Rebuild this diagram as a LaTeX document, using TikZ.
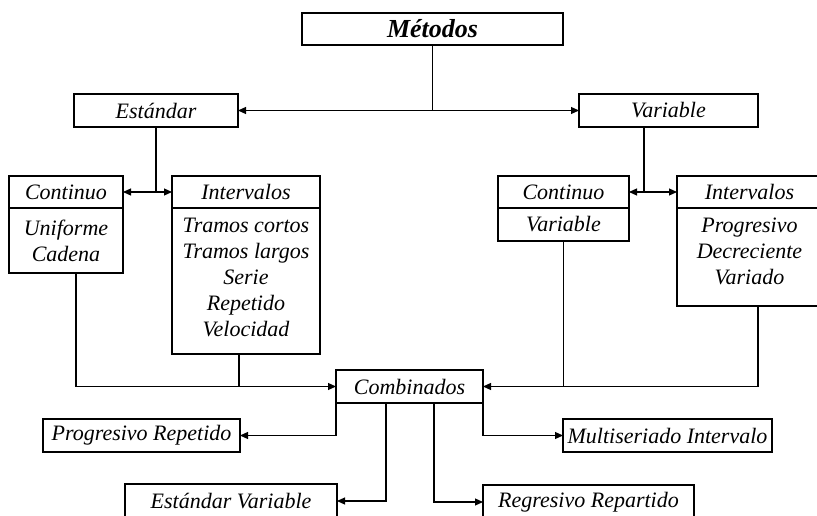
\documentclass[tikz,border=0pt]{standalone}
\usepackage{fontspec}
\setmainfont{Liberation Serif}
\usetikzlibrary{arrows.meta}
\begin{document}
\begin{tikzpicture}[x=1pt,y=-1pt,
  box/.style={draw, line width=1.1pt, rectangle, inner sep=0pt, outer sep=0pt,
    align=center, font=\fontsize{22}{26}\selectfont\itshape},
  link/.style={line width=1.1pt},
  tip/.style={-{Triangle[length=8pt,width=7pt]}},
  tips/.style={{Triangle[length=8pt,width=7pt]}-{Triangle[length=8pt,width=7pt]}}]
\useasboundingbox (0,0) rectangle (817,516);

% top level
\node[box, font=\fontsize{26}{30}\selectfont\bfseries\itshape,
  minimum width=261, minimum height=32] (metodos) at (432.5,29) {Métodos};
\node[box, minimum width=164, minimum height=33] (estandar) at (156,110.5) {Estándar};
\node[box, minimum width=179, minimum height=33] (variable) at (668.5,110.5) {Variable};

% standard methods
\node[box, minimum width=114, minimum height=32] (c1h) at (66,192) {Continuo};
\node[box, minimum width=114, minimum height=65] (c1l) at (66,240.5) {Uniforme\\Cadena};
\node[box, minimum width=148, minimum height=32] (i1h) at (246,192) {Intervalos};
\node[box, minimum width=148, minimum height=146, text depth=8pt] (i1l) at (246,281)
  {Tramos cortos\\Tramos largos\\Serie\\Repetido\\Velocidad};

% variable methods
\node[box, minimum width=131, minimum height=32] (c2h) at (563.5,192) {Continuo};
\node[box, minimum width=131, minimum height=33] (c2l) at (563.5,224.5) {Variable};
\node[box, minimum width=145, minimum height=32] (i2h) at (749.5,192) {Intervalos};
\node[box, minimum width=145, minimum height=98, text depth=11pt] (i2l) at (749.5,257)
  {Progresivo\\Decreciente\\Variado};

% combined methods
\node[box, minimum width=147, minimum height=33] (comb) at (409.5,386.5) {Combinados};
\node[box, minimum width=197, minimum height=33] (progrep) at (141.5,435.5) {Progresivo Repetido};
\node[box, minimum width=209, minimum height=33] (multi) at (667.5,435.5) {Multiseriado Intervalo};
\node[box, minimum width=212, minimum height=34] (estvar) at (231,501) {Estándar Variable};
\node[box, minimum width=211, minimum height=34] (regrep) at (588.5,502) {Regresivo Repartido};

% connectors: top
\draw[link] (metodos.south) -- (metodos.south |- estandar.east);
\draw[link, tips] (estandar.east) -- (variable.west);
\draw[link] (estandar.south) -- (estandar.south |- c1h.east);
\draw[link, tips] (c1h.east) -- (i1h.west);
\draw[link] ([xshift=-24.5]variable.south) -- ([xshift=-24.5]variable.south |- c2h.east);
\draw[link, tips] (c2h.east) -- (i2h.west);

% connectors: into Combinados
\draw[link, tip] ([xshift=10]c1l.south) |- (comb.west);
\draw[link] ([xshift=-7]i1l.south) -- ([xshift=-7]i1l.south |- comb.west);
\draw[link] (c2l.south) -- (c2l.south |- comb.east);
\draw[link, tip] ([xshift=8.5]i2l.south) |- (comb.east);

% connectors: out of Combinados
\draw[link, tip] (comb.south west) |- (progrep.east);
\draw[link, tip] (comb.south east) |- (multi.west);
\draw[link, tip] ([xshift=-23.5]comb.south) |- (estvar.east);
\draw[link, tip] ([xshift=24.5]comb.south) |- (regrep.west);
\end{tikzpicture}
\end{document}
